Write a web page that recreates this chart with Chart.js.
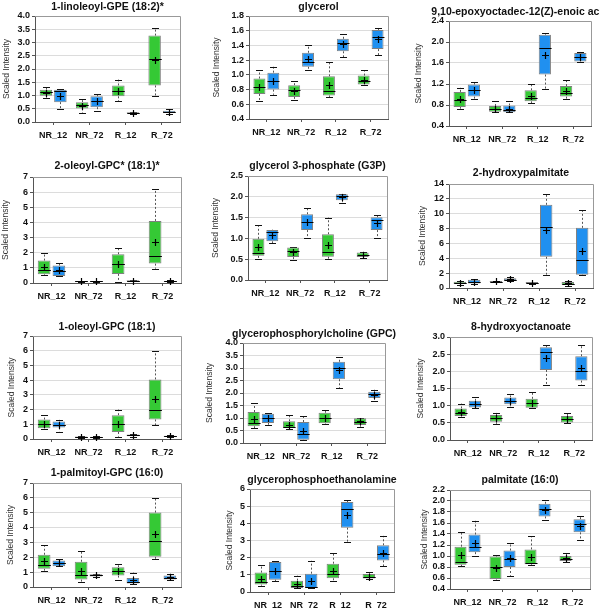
<!DOCTYPE html>
<html>
<head>
<meta charset="utf-8">
<script src="https://cdn.jsdelivr.net/npm/chart.js@4.4.1/dist/chart.umd.min.js"></script>
<style>
  html, body { margin: 0; padding: 0; background: #fff; width: 600px; height: 608px; overflow: hidden; position: relative; }
  canvas { position: absolute; }
</style>
</head>
<body>
<script>
const groups = ['NR_12', 'NR_72', 'R_12', 'R_72'];
const titles = [
  '1-linoleoyl-GPE (18:2)*', 'glycerol', '9,10-epoxyoctadec-12(Z)-enoic acid',
  '2-oleoyl-GPC* (18:1)*', 'glycerol 3-phosphate (G3P)', '2-hydroxypalmitate',
  '1-oleoyl-GPC (18:1)', 'glycerophosphorylcholine (GPC)', '8-hydroxyoctanoate',
  '1-palmitoyl-GPC (16:0)', 'glycerophosphoethanolamine', 'palmitate (16:0)'
];
const yMin  = [0, 0.4, 0.4, 0, 0, 0, 0, 0, 0, 0, 0, 0.4];
const yMax  = [4, 1.8, 2.4, 7, 2.5, 14, 7, 4, 3, 7, 6, 2.2];
const yStep = [0.5, 0.2, 0.4, 1, 0.5, 2, 1, 0.5, 0.5, 1, 1, 0.2];

// each box: [min, q1, median, q3, max, mean], one per group
const linoleoylGpeGreen = [[0.89,0.99,1.12,1.22,1.32,1.10],[0.34,0.51,0.64,0.75,0.87,0.62],[0.79,0.97,1.17,1.38,1.60,1.18],[1.00,1.38,2.37,3.26,3.53,2.35]];
const linoleoylGpeBlue  = [[0.50,0.75,1.18,1.22,1.24,1.00],[0.43,0.56,0.80,0.97,1.04,0.78],[0.31,0.33,0.35,0.37,0.39,0.35],[0.32,0.34,0.38,0.42,0.48,0.38]];
const glycerolGreen = [[0.64,0.74,0.84,0.95,1.06,0.84],[0.66,0.70,0.79,0.86,0.91,0.78],[0.70,0.72,0.78,0.98,1.17,0.86],[0.86,0.87,0.92,0.99,1.06,0.93]];
const glycerolBlue  = [[0.73,0.80,0.92,1.03,1.11,0.91],[1.07,1.11,1.18,1.30,1.40,1.21],[1.24,1.32,1.43,1.49,1.55,1.42],[1.27,1.35,1.51,1.61,1.64,1.49]];
const epoxyGreen = [[0.73,0.76,0.89,1.05,1.13,0.91],[0.66,0.67,0.72,0.78,0.87,0.73],[0.83,0.87,0.93,1.08,1.20,0.97],[0.91,0.96,1.02,1.16,1.27,1.06]];
const epoxyBlue  = [[0.91,0.96,1.08,1.19,1.24,1.08],[0.66,0.66,0.70,0.79,0.87,0.72],[1.10,1.38,1.88,2.14,2.17,1.76],[1.61,1.63,1.72,1.79,1.81,1.71]];
const oleoylGpc2Green = [[0.53,0.57,0.83,1.48,2.00,1.04],[0.06,0.08,0.10,0.12,0.14,0.10],[0.09,0.60,1.26,1.90,2.32,1.27],[0.95,1.28,1.80,4.10,6.20,2.70]];
const oleoylGpc2Blue  = [[0.44,0.46,0.82,1.15,1.35,0.84],[0.06,0.08,0.10,0.12,0.14,0.10],[0.10,0.12,0.15,0.18,0.20,0.15],[0.08,0.10,0.12,0.14,0.17,0.12]];
const g3pGreen = [[0.51,0.58,0.66,0.99,1.32,0.79],[0.47,0.55,0.70,0.78,0.79,0.68],[0.51,0.56,0.67,1.10,1.50,0.83],[0.53,0.55,0.61,0.66,0.68,0.61]];
const g3pBlue  = [[0.88,0.93,1.16,1.20,1.21,1.07],[1.00,1.20,1.40,1.58,1.72,1.40],[1.86,1.92,2.02,2.06,2.07,2.00],[1.00,1.20,1.45,1.51,1.56,1.37]];
const hydroxyPalmGreen = [[0.40,0.55,0.70,0.85,1.00,0.70],[0.75,0.80,0.85,0.95,1.00,0.88],[0.55,0.60,0.70,0.80,0.85,0.70],[0.30,0.45,0.60,0.80,1.00,0.65]];
const hydroxyPalmBlue  = [[0.50,0.60,0.85,1.10,1.20,0.85],[0.90,1.00,1.10,1.30,1.45,1.15],[1.80,4.20,8.20,11.20,12.70,7.80],[1.70,1.80,3.80,8.10,10.50,4.95]];
const oleoylGpc1Green = [[0.70,0.73,1.00,1.32,1.60,1.00],[0.10,0.13,0.15,0.17,0.20,0.15],[0.16,0.48,1.05,1.62,2.00,1.04],[0.93,1.33,1.96,4.05,5.97,2.71]];
const oleoylGpc1Blue  = [[0.50,0.78,0.98,1.19,1.30,0.98],[0.10,0.12,0.13,0.15,0.17,0.13],[0.15,0.18,0.25,0.30,0.35,0.25],[0.12,0.15,0.18,0.22,0.27,0.20]];
const gpcGreen = [[0.60,0.67,0.80,1.24,1.60,0.95],[0.57,0.60,0.64,0.87,1.11,0.71],[0.77,0.79,1.00,1.21,1.32,1.00],[0.65,0.72,0.86,0.99,1.00,0.87]];
const gpcBlue  = [[0.73,0.80,1.00,1.17,1.20,1.00],[0.12,0.13,0.37,0.84,1.07,0.48],[2.20,2.55,3.01,3.25,3.44,2.93],[1.69,1.80,1.95,2.05,2.13,1.94]];
const hydroxyOctGreen = [[0.68,0.70,0.80,0.92,1.06,0.82],[0.46,0.53,0.64,0.73,0.80,0.64],[0.92,0.94,1.07,1.20,1.39,1.07],[0.49,0.51,0.60,0.70,0.80,0.60]];
const hydroxyOctBlue  = [[0.93,0.95,1.05,1.14,1.24,1.05],[0.97,1.04,1.14,1.24,1.33,1.13],[1.60,2.04,2.55,2.70,2.78,2.38],[1.60,1.73,2.00,2.44,2.78,2.09]];
const palmitoylGpcGreen = [[1.10,1.22,1.47,2.17,2.80,1.72],[0.36,0.50,0.84,1.70,2.39,1.10],[0.50,0.77,1.05,1.33,1.54,1.06],[1.90,2.03,3.12,5.01,5.98,3.57]];
const palmitoylGpcBlue  = [[1.38,1.40,1.60,1.78,1.87,1.60],[0.68,0.70,0.78,0.85,0.90,0.78],[0.18,0.23,0.36,0.61,0.97,0.45],[0.45,0.50,0.63,0.77,0.90,0.64]];
const gpeGreen = [[0.37,0.43,0.60,1.13,1.55,0.78],[0.22,0.23,0.33,0.66,0.95,0.46],[0.66,0.80,1.05,1.65,2.27,1.24],[0.75,0.78,0.87,1.05,1.17,0.90]];
const gpeBlue  = [[0.64,0.72,1.24,1.75,1.78,1.22],[0.22,0.23,0.27,1.07,1.82,0.66],[2.90,3.75,4.85,5.24,5.34,4.50],[1.50,1.84,2.20,2.72,3.27,2.30]];
const palmitateGreen = [[0.81,0.84,0.89,1.17,1.44,1.01],[0.57,0.58,0.80,0.99,1.01,0.79],[0.83,0.85,0.88,1.12,1.36,0.99],[0.90,0.91,0.95,1.00,1.06,0.96]];
const palmitateBlue  = [[1.00,1.07,1.17,1.39,1.64,1.24],[0.64,0.80,0.95,1.10,1.23,0.96],[1.66,1.72,1.85,1.95,2.01,1.84],[1.29,1.43,1.59,1.67,1.73,1.55]];

const greenSets = [linoleoylGpeGreen, glycerolGreen, epoxyGreen, oleoylGpc2Green, g3pGreen, hydroxyPalmGreen,
  oleoylGpc1Green, gpcGreen, hydroxyOctGreen, palmitoylGpcGreen, gpeGreen, palmitateGreen];
const blueSets = [linoleoylGpeBlue, glycerolBlue, epoxyBlue, oleoylGpc2Blue, g3pBlue, hydroxyPalmBlue,
  oleoylGpc1Blue, gpcBlue, hydroxyOctBlue, palmitoylGpcBlue, gpeBlue, palmitateBlue];

// page layout: plot left, top, right, bottom, title centre y, y-title centre x
const frames = [
  [35, 16, 180, 122, 7, 7],    [249, 16, 388, 119, 7, 217],   [449, 21, 591, 126, 12, 419],
  [33, 177, 181, 283, 166, 6], [248, 176, 387, 280, 166, 216], [449, 184, 593, 288, 173, 423],
  [33, 336, 181, 439, 327, 12], [243, 343, 385, 443, 334, 210], [450, 337, 592, 440, 327, 421],
  [33, 483, 181, 587, 473, 11], [250, 489, 394, 592, 480, 230], [450, 490, 590, 589, 480, 425]
];

const FONT = "'Liberation Sans', Arial, sans-serif";
const GREEN = '#35c935', BLUE = '#2090f0';

const boxPlugin = {
  id: 'boxes',
  beforeDatasetsDraw(chart) {
    const ctx = chart.ctx, y = chart.scales.y;
    chart.data.datasets.forEach((ds, di) => {
      chart.getDatasetMeta(di).data.forEach((el, i) => {
        const s = ds.stats[i];
        const x = Math.round(el.x) + 0.5, cap = 3.5;
        ctx.save();
        ctx.strokeStyle = '#555';
        ctx.lineWidth = 1;
        ctx.setLineDash([2, 2]);
        ctx.beginPath();
        ctx.moveTo(x, y.getPixelForValue(s[3])); ctx.lineTo(x, y.getPixelForValue(s[4]));
        ctx.moveTo(x, y.getPixelForValue(s[1])); ctx.lineTo(x, y.getPixelForValue(s[0]));
        ctx.stroke();
        ctx.setLineDash([]);
        ctx.strokeStyle = '#111';
        ctx.beginPath();
        [s[0], s[4]].forEach(v => {
          const py = Math.round(y.getPixelForValue(v)) + 0.5;
          ctx.moveTo(x - cap, py); ctx.lineTo(x + cap, py);
        });
        ctx.stroke();
        ctx.restore();
      });
    });
  },
  afterDatasetsDraw(chart) {
    const ctx = chart.ctx, y = chart.scales.y;
    chart.data.datasets.forEach((ds, di) => {
      chart.getDatasetMeta(di).data.forEach((el, i) => {
        const s = ds.stats[i];
        const x = Math.round(el.x) + 0.5, half = el.width / 2;
        ctx.save();
        ctx.strokeStyle = '#000';
        ctx.lineWidth = 1;
        const my = Math.round(y.getPixelForValue(s[2])) + 0.5;
        ctx.beginPath(); ctx.moveTo(x - half, my); ctx.lineTo(x + half, my); ctx.stroke();
        const ay = Math.round(y.getPixelForValue(s[5])) + 0.5;
        ctx.lineWidth = 1.2;
        ctx.beginPath();
        ctx.moveTo(x - 3.5, ay); ctx.lineTo(x + 3.5, ay);
        ctx.moveTo(x, ay - 3.5); ctx.lineTo(x, ay + 3.5);
        ctx.stroke();
        ctx.restore();
      });
    });
  },
  afterDraw(chart, args, opts) {
    const ctx = chart.ctx, a = chart.chartArea;
    ctx.save();
    ctx.strokeStyle = '#999';
    ctx.lineWidth = 1;
    ctx.beginPath();
    ctx.moveTo(a.left, Math.round(a.top) + 0.5); ctx.lineTo(Math.round(a.right) + 0.5, Math.round(a.top) + 0.5);
    ctx.lineTo(Math.round(a.right) + 0.5, a.bottom);
    ctx.stroke();
    ctx.fillStyle = '#111';
    ctx.font = `bold 10.5px ${FONT}`;
    ctx.textAlign = 'center';
    ctx.textBaseline = 'middle';
    ctx.fillText(opts.text, (a.left + a.right) / 2, opts.y);
    ctx.restore();
  }
};

titles.forEach((title, p) => {
  const col = p % 3, row = Math.floor(p / 3);
  const x0 = col * 200, y0 = row * 152, w = 200, h = row < 3 ? 162 : 152;
  const [l, t, r, b, ty, tx] = frames[p];
  const canvas = document.createElement('canvas');
  canvas.width = w; canvas.height = h;
  canvas.style.left = x0 + 'px'; canvas.style.top = y0 + 'px';
  canvas.style.width = w + 'px'; canvas.style.height = h + 'px';
  document.body.appendChild(canvas);
  const dec = yStep[p] < 1 ? 1 : 0;

  new Chart(canvas.getContext('2d'), {
    type: 'bar',
    data: {
      labels: groups,
      datasets: [
        { data: greenSets[p].map(s => [s[1], s[3]]), stats: greenSets[p], backgroundColor: GREEN,
          borderColor: '#808080', borderWidth: 1, borderSkipped: false, categoryPercentage: 0.8, barPercentage: 0.86 },
        { data: blueSets[p].map(s => [s[1], s[3]]), stats: blueSets[p], backgroundColor: BLUE,
          borderColor: '#808080', borderWidth: 1, borderSkipped: false, categoryPercentage: 0.8, barPercentage: 0.86 }
      ]
    },
    options: {
      responsive: false,
      animation: false,
      layout: { padding: { left: 0, right: w - (r - x0), top: t - y0, bottom: 0 } },
      plugins: {
        legend: { display: false },
        tooltip: { enabled: false },
        boxes: { text: title, y: ty - y0 }
      },
      scales: {
        x: {
          grid: { drawOnChartArea: false, offset: false, tickLength: 3, tickColor: '#555' },
          border: { color: '#555' },
          ticks: { color: '#111', padding: 5, autoSkip: false, maxRotation: 0, minRotation: 0,
                   font: { family: FONT, size: 9, weight: 'bold' } },
          afterFit: s => { s.height = h - (b - y0); }
        },
        y: {
          min: yMin[p], max: yMax[p],
          ticks: { stepSize: yStep[p], color: '#111', padding: 2, autoSkip: false,
                   font: { family: FONT, size: 9, weight: 'bold' }, callback: v => v.toFixed(dec) },
          grid: { color: '#dcdcdc', tickLength: 3, tickColor: '#555' },
          border: { color: '#555' },
          title: { display: true, text: 'Scaled Intensity', color: '#333',
                   font: { family: FONT, size: 8.5 }, padding: { top: Math.max(0, tx - x0 - 5), bottom: 0 } },
          afterFit: s => { s.width = l - x0; }
        }
      }
    },
    plugins: [boxPlugin]
  });
});
</script>
</body>
</html>
